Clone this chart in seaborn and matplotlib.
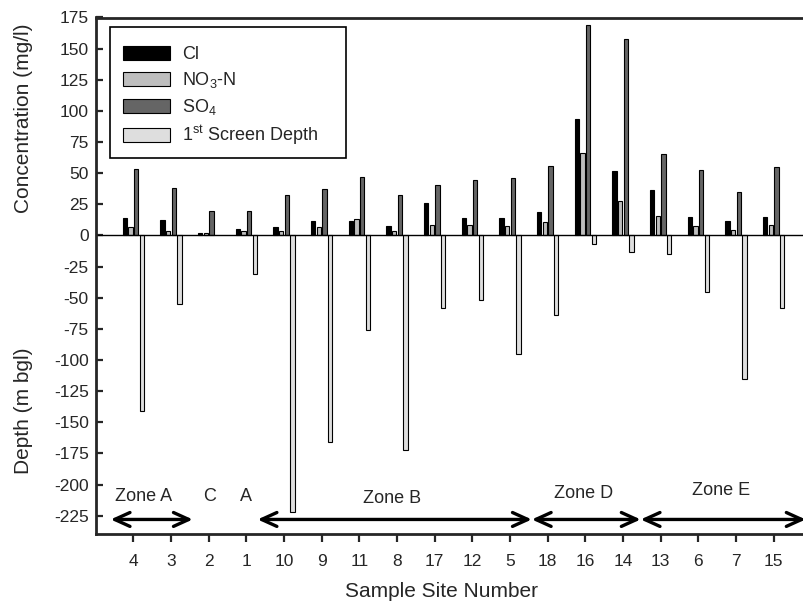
import numpy as np
import pandas as pd
import matplotlib
matplotlib.use("Agg")
import matplotlib.pyplot as plt
from matplotlib.patches import Rectangle
import seaborn as sns

# Sample sites in plotting order (grouped by zone)
sites = ['4', '3', '2', '1', '10', '9', '11', '8', '17', '12', '5',
         '18', '16', '14', '13', '6', '7', '15']

# Concentrations (mg/l)
cl = [13.9, 12.8, 1.6, 5.1, 6.7, 11.7, 11.5, 7.5, 25.9, 14.1, 14.4,
      19.0, 93.6, 51.9, 36.6, 15.2, 11.7, 14.7]
no3_n = [6.9, 3.5, 1.6, 3.5, 3.5, 6.7, 13.1, 3.5, 8.3, 8.3, 8.0,
         10.9, 66.6, 27.3, 16.0, 8.0, 4.3, 8.3]
so4 = [53.5, 38.2, 19.5, 20.0, 32.6, 37.2, 46.8, 32.1, 40.9, 44.6, 46.0,
       55.6, 168.6, 157.6, 65.3, 52.7, 34.8, 54.6]
# Depth of first screen (m below ground level); site 2 has none
screen_depth = [-141, -55, np.nan, -31, -222, -166, -76, -172, -58, -52, -95,
                -64, -7.2, -13.4, -14.5, -45, -115, -58]

series_names = ['Cl', 'NO3-N', 'SO4', 'Screen']
legend_labels = ['Cl', r'NO$_3$-N', r'SO$_4$', r'1$^{st}$ Screen Depth']
series_colors = ['#000000', '#bebebe', '#656565', '#dedede']

# Zone annotations: (label, x, y) and arrows (x_start, x_end)
zone_labels = [('Zone A', 0.27, -209.5), ('C', 2.03, -209.5), ('A', 2.98, -209.5),
               ('Zone B', 6.86, -211.0), ('Zone D', 11.96, -207.5),
               ('Zone E', 15.6, -205.0)]
zone_arrows = [(-0.6, 1.58), (3.30, 10.58), (10.58, 13.47), (13.47, 17.85)]
arrow_y = -228

sns.set_style('ticks')
plt.rcParams['font.family'] = ['Liberation Sans', 'DejaVu Sans']
plt.rcParams['mathtext.fontset'] = 'custom'
plt.rcParams['mathtext.rm'] = 'Liberation Sans'
plt.rcParams['mathtext.it'] = 'Liberation Sans'
plt.rcParams['axes.unicode_minus'] = False

rows = []
for name, vals in zip(series_names, [cl, no3_n, so4, screen_depth]):
    for s, v in zip(sites, vals):
        if not np.isnan(v):
            rows.append({'site': s, 'series': name, 'value': v})
df = pd.DataFrame(rows)

fig = plt.figure(figsize=(8.04, 6.02), dpi=100)
ax = fig.add_axes([95.6 / 804, 1 - 534.4 / 602, 715.7 / 804, 516.9 / 602])

sns.barplot(data=df, x='site', y='value', hue='series', order=sites,
            hue_order=series_names, palette=series_colors, width=0.6, gap=0.25,
            errorbar=None, edgecolor='black', linewidth=0.8, ax=ax)

ax.axhline(0, color='black', lw=1.0, zorder=1)
ax.set_xlim(-1, 18)
ax.set_ylim(-240, 175)
ax.set_yticks(np.arange(-225, 176, 25))
ax.tick_params(axis='y', direction='in', length=5, width=1.6, labelsize=12.5, pad=5)
ax.tick_params(axis='x', direction='out', length=6, width=1.6, labelsize=12.5, pad=8)
for sp in ax.spines.values():
    sp.set_linewidth(2.0)
    sp.set_visible(True)

ax.set_ylabel('')
ax.set_xlabel('Sample Site Number', fontsize=15)
ax.xaxis.set_label_coords(0.484, -0.093)

fig.text(24 / 804, 1 - 118 / 602, 'Concentration (mg/l)', rotation=90,
         ha='center', va='center', fontsize=15)
fig.text(24 / 804, 1 - 411 / 602, 'Depth (m bgl)', rotation=90,
         ha='center', va='center', fontsize=15)

for label, x, y in zone_labels:
    ax.text(x, y, label, ha='center', va='center', fontsize=13)

for x0, x1 in zone_arrows:
    ax.annotate('', xy=(x1, arrow_y), xytext=(x0, arrow_y),
                arrowprops=dict(arrowstyle='<->, head_length=1.1, head_width=0.5',
                                mutation_scale=10, lw=2.4, color='black',
                                shrinkA=0, shrinkB=0))

# Legend box drawn separately so its padding can be set freely
ax.add_patch(Rectangle((0.0201, 0.7282), 0.3297, 0.2534, transform=ax.transAxes,
                       facecolor='white', edgecolor='black', lw=1.2, zorder=4.5))

handles, _ = ax.get_legend_handles_labels()
leg = ax.legend(handles, legend_labels, loc='upper left',
                bbox_to_anchor=(0.0201, 0.970), borderaxespad=0,
                fontsize=13, handlelength=2.6, handleheight=0.8,
                handletextpad=0.65, labelspacing=0.38, borderpad=0.72,
                frameon=False)
leg.set_zorder(5)

fig.savefig('out.png', dpi=100)
